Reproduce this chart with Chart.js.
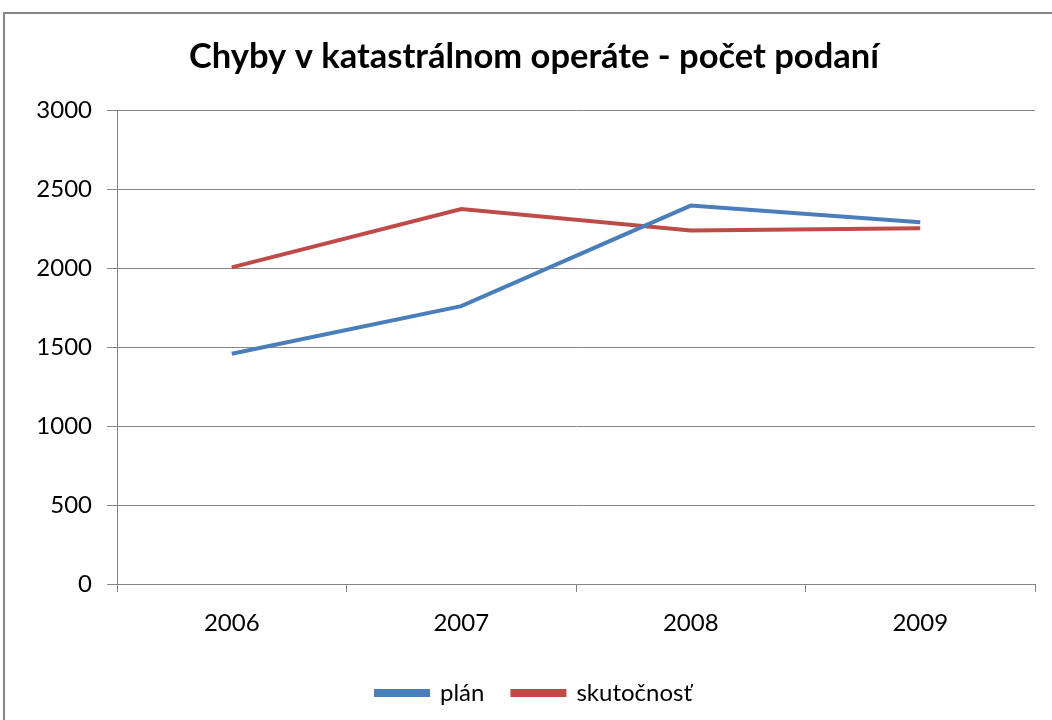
<!DOCTYPE html>
<html>
<head>
<meta charset="utf-8">
<script src="https://cdn.jsdelivr.net/npm/chart.js@4"></script>
<style>
  html, body { margin: 0; padding: 0; background: #fff; overflow: hidden; }
  .frame {
    position: absolute;
    left: 3px;
    top: 12px;
    width: 1081px;
    height: 730px;
    border: 2px solid #878787;
  }
</style>
</head>
<body>
<div class="frame">
  <canvas id="myChart" width="1081" height="730"></canvas>
</div>
<script>
// chart data
const years = ["2006", "2007", "2008", "2009"];
const plan = [1458, 1760, 2397, 2292];
const skutocnost = [2006, 2375, 2240, 2254];
const yTicks = [0, 500, 1000, 1500, 2000, 2500, 3000];

const gridColor = "#868686";
const font = "Lato";

const data = {
  labels: years,
  datasets: [
    {
      label: "plán",
      data: plan,
      borderColor: "#4A7EBB",
      backgroundColor: "#4A7EBB",
      borderWidth: 4,
      pointRadius: 0,
      tension: 0,
    },
    {
      label: "skutočnosť",
      data: skutocnost,
      borderColor: "#BE4B48",
      backgroundColor: "#BE4B48",
      borderWidth: 4,
      pointRadius: 0,
      tension: 0,
    },
  ],
};

const config = {
  type: "line",
  data,
  options: {
    responsive: false,
    animation: false,
    layout: {
      padding: { left: 28, right: 51, top: 0, bottom: 29 },
    },
    plugins: {
      title: {
        display: true,
        text: "Chyby v katastrálnom operáte - počet podaní",
        color: "#000",
        font: { family: font, size: 34.5, weight: "bold" },
        padding: { top: 22, bottom: 33 },
      },
      legend: {
        position: "bottom",
        labels: {
          color: "#000",
          font: { family: font, size: 24 },
          boxWidth: 52,
          boxHeight: 4,
          padding: 28,
        },
      },
      tooltip: { enabled: false },
    },
    scales: {
      x: {
        offset: true,
        grid: {
          offset: true,
          drawOnChartArea: false,
          drawTicks: true,
          tickLength: 8,
          color: gridColor,
        },
        border: { color: gridColor },
        ticks: {
          color: "#000",
          font: { family: font, size: 24 },
          padding: 17,
        },
        afterFit: (scale) => {
          scale.height = 69;
        },
      },
      y: {
        min: 0,
        max: 3000,
        afterBuildTicks: (scale) => {
          scale.ticks = yTicks.map((v) => ({ value: v }));
        },
        afterFit: (scale) => {
          scale.width = 84;
        },
        grid: {
          color: gridColor,
          tickLength: 10,
        },
        border: { color: gridColor },
        ticks: {
          color: "#000",
          font: { family: font, size: 24 },
          padding: 15,
          callback: (value) => String(value),
        },
      },
    },
  },
};

const myChart = new Chart(document.getElementById("myChart"), config);
</script>
</body>
</html>
